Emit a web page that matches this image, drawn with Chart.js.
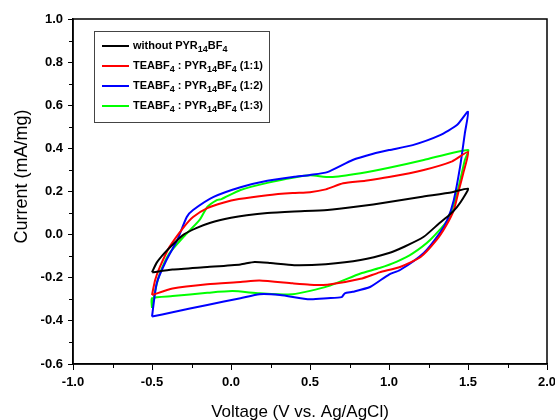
<!DOCTYPE html>
<html><head><meta charset="utf-8">
<script src="https://cdn.jsdelivr.net/npm/chart.js@4.4.0/dist/chart.umd.min.js"></script>
<style>html,body{margin:0;padding:0;background:#fff;}canvas{display:block;}</style>
</head><body>
<canvas id="c" width="555" height="420"></canvas>
<script>
// ---------- data ----------
const seriesLabels = [
  'without PYR₁₄BF₄',
  'TEABF₄ : PYR₁₄BF₄ (1:1)',
  'TEABF₄ : PYR₁₄BF₄ (1:2)',
  'TEABF₄ : PYR₁₄BF₄ (1:3)'
];
const seriesColors = ['#000000', '#ff0000', '#0000ff', '#00ff00'];

const blackV = [-0.50,-0.47,-0.42,-0.36,-0.30,-0.22,-0.13,0.00,0.10,0.23,0.40,0.61,0.80,1.00,1.20,1.40,1.50,
                1.47,1.43,1.38,1.32,1.22,1.10,1.00,0.82,0.60,0.40,0.25,0.15,0.06,-0.15,-0.37,-0.50];
const blackI = [-0.175,-0.13,-0.085,-0.04,0.00,0.03,0.055,0.078,0.09,0.10,0.107,0.114,0.13,0.151,0.175,0.197,0.213,
                0.17,0.128,0.09,0.054,-0.01,-0.055,-0.085,-0.118,-0.137,-0.142,-0.132,-0.127,-0.138,-0.15,-0.162,-0.175];

const redV = [-0.50,-0.48,-0.45,-0.39,-0.30,-0.24,-0.15,-0.05,0.05,0.23,0.39,0.50,0.60,0.71,0.85,1.00,1.22,1.40,1.50,
              1.47,1.44,1.41,1.36,1.30,1.20,1.07,0.94,0.82,0.61,0.50,0.39,0.18,0.06,-0.15,-0.37,-0.50];
const redI = [-0.28,-0.21,-0.15,-0.058,0.034,0.082,0.123,0.148,0.165,0.183,0.193,0.197,0.21,0.238,0.25,0.267,0.30,0.34,0.383,
              0.285,0.20,0.114,0.04,-0.026,-0.104,-0.15,-0.175,-0.205,-0.233,-0.232,-0.226,-0.213,-0.22,-0.23,-0.25,-0.28];

const blueV = [-0.50,-0.47,-0.41,-0.34,-0.28,-0.24,-0.11,0.06,0.23,0.40,0.50,0.61,0.77,0.90,1.00,1.15,1.32,1.43,1.50,
               1.48,1.45,1.41,1.37,1.32,1.22,1.07,1.00,0.88,0.77,0.72,0.70,0.61,0.50,0.31,0.18,0.06,-0.15,-0.37,-0.50];
const blueI = [-0.38,-0.225,-0.12,-0.025,0.082,0.114,0.175,0.22,0.25,0.268,0.277,0.29,0.346,0.375,0.392,0.415,0.46,0.508,0.57,
               0.47,0.315,0.16,0.07,0.006,-0.085,-0.164,-0.185,-0.243,-0.265,-0.272,-0.29,-0.295,-0.30,-0.28,-0.276,-0.295,-0.326,-0.36,-0.38];

const greenV = [-0.50,-0.48,-0.45,-0.39,-0.30,-0.20,-0.15,-0.09,-0.06,0.06,0.23,0.40,0.50,0.63,0.82,1.00,1.22,1.50,
                1.48,1.43,1.37,1.26,1.15,1.05,0.94,0.82,0.61,0.39,0.18,0.01,-0.15,-0.37,-0.50,-0.50];
const greenI = [-0.34,-0.26,-0.18,-0.087,-0.01,0.067,0.128,0.16,0.165,0.207,0.24,0.265,0.275,0.267,0.285,0.31,0.346,0.393,
                0.346,0.19,0.067,-0.025,-0.087,-0.125,-0.155,-0.18,-0.24,-0.277,-0.272,-0.262,-0.27,-0.285,-0.295,-0.34];

const xTickValues = [-1.0,-0.5,0.0,0.5,1.0,1.5,2.0];
const yTickValues = [-0.6,-0.4,-0.2,0.0,0.2,0.4,0.6,0.8,1.0];
const xTitle = 'Voltage (V vs. Ag/AgCl)';
const yTitle = 'Current (mA/mg)';

// ---------- build ----------
const seriesV = [blackV, redV, blueV, greenV];
const seriesI = [blackI, redI, blueI, greenI];
const datasets = seriesLabels.map((lab, k) => ({
  label: lab,
  data: seriesV[k].map((v, i) => ({x: v, y: seriesI[k][i]})),
  showLine: true,
  borderColor: seriesColors[k],
  backgroundColor: seriesColors[k],
  borderWidth: 2,
  pointRadius: 0,
  tension: 0.2,
  fill: false
}));

const FONT = '"Liberation Sans", Arial, sans-serif';
const SUBS = {'₀':'0','₁':'1','₂':'2','₃':'3','₄':'4','₅':'5','₆':'6','₇':'7','₈':'8','₉':'9'};

function drawRich(ctx, text, x, y, size) {
  let cx = x;
  let i = 0;
  while (i < text.length) {
    const isSub = SUBS[text[i]] !== undefined;
    let run = '';
    while (i < text.length && (SUBS[text[i]] !== undefined) === isSub) {
      run += isSub ? SUBS[text[i]] : text[i];
      i++;
    }
    ctx.font = 'bold ' + (isSub ? size - 2 : size) + 'px ' + FONT;
    ctx.fillText(run, cx, isSub ? y + 4 : y);
    cx += ctx.measureText(run).width;
  }
}

const decor = {
  id: 'decor',
  afterDraw(chart) {
    const ctx = chart.ctx;
    const a = chart.chartArea;
    const xs = chart.scales.x, ys = chart.scales.y;
    ctx.save();
    // frame
    ctx.strokeStyle = '#000';
    ctx.lineWidth = 1.5;
    ctx.strokeRect(a.left, a.top, a.right - a.left, a.bottom - a.top);
    // minor ticks
    ctx.lineWidth = 1;
    ctx.beginPath();
    for (let i = 0; i < xTickValues.length - 1; i++) {
      const px = Math.round(xs.getPixelForValue((xTickValues[i] + xTickValues[i + 1]) / 2)) + 0.5;
      ctx.moveTo(px, a.bottom); ctx.lineTo(px, a.bottom + 4);
    }
    for (let i = 0; i < yTickValues.length - 1; i++) {
      const py = Math.round(ys.getPixelForValue((yTickValues[i] + yTickValues[i + 1]) / 2)) + 0.5;
      ctx.moveTo(a.left, py); ctx.lineTo(a.left - 4, py);
    }
    ctx.stroke();
    // axis titles
    ctx.fillStyle = '#000';
    ctx.font = '17px ' + FONT;
    ctx.textAlign = 'center';
    ctx.textBaseline = 'alphabetic';
    ctx.fillText(xTitle, (a.left + a.right) / 2 - 10, 417);
    ctx.save();
    ctx.translate(22, (a.top + a.bottom) / 2 - 15);
    ctx.rotate(-Math.PI / 2);
    ctx.font = '18px ' + FONT;
    ctx.textBaseline = 'middle';
    ctx.fillText(yTitle, 0, 0);
    ctx.restore();
    // legend
    const bx = a.left + 21, by = a.top + 12, bw = 175, bh = 91;
    ctx.fillStyle = '#fff';
    ctx.fillRect(bx, by, bw, bh);
    ctx.strokeStyle = '#444';
    ctx.lineWidth = 1;
    ctx.strokeRect(bx + 0.5, by + 0.5, bw, bh);
    ctx.textAlign = 'left';
    ctx.textBaseline = 'middle';
    seriesLabels.forEach((lab, k) => {
      const yy = by + 15 + k * 20;
      ctx.strokeStyle = seriesColors[k];
      ctx.lineWidth = 2;
      ctx.beginPath();
      ctx.moveTo(bx + 8, yy); ctx.lineTo(bx + 35, yy);
      ctx.stroke();
      ctx.fillStyle = '#000';
      drawRich(ctx, lab, bx + 39, yy, 11);
    });
    ctx.restore();
  }
};

new Chart(document.getElementById('c'), {
  type: 'scatter',
  data: {datasets},
  options: {
    responsive: false,
    animation: false,
    devicePixelRatio: 1,
    layout: {padding: {top: 19, right: 8, left: 0, bottom: 0}},
    plugins: {legend: {display: false}, tooltip: {enabled: false}},
    scales: {
      x: {
        type: 'linear', min: -1, max: 2,
        afterBuildTicks: s => { s.ticks = xTickValues.map(v => ({value: v})); },
        ticks: {callback: v => Number(v).toFixed(1), color: '#000', font: {family: FONT, size: 13, weight: 'bold'}, padding: 5, maxRotation: 0, autoSkip: false},
        grid: {display: true, drawOnChartArea: false, drawTicks: true, tickLength: 6, color: '#000', lineWidth: 1},
        border: {display: true, color: '#000', width: 1.5},
        afterFit: s => { s.height = 56; s.paddingLeft = 0; s.paddingRight = 0; }
      },
      y: {
        type: 'linear', min: -0.6, max: 1.0,
        afterBuildTicks: s => { s.ticks = yTickValues.map(v => ({value: v})); },
        ticks: {callback: v => Number(v).toFixed(1), color: '#000', font: {family: FONT, size: 13, weight: 'bold'}, padding: 5, autoSkip: false},
        grid: {display: true, drawOnChartArea: false, drawTicks: true, tickLength: 5, color: '#000', lineWidth: 1},
        border: {display: true, color: '#000', width: 1.5},
        afterFit: s => { s.width = 73; s.paddingTop = 0; s.paddingBottom = 0; }
      }
    }
  },
  plugins: [decor]
});
</script>
</body></html>
